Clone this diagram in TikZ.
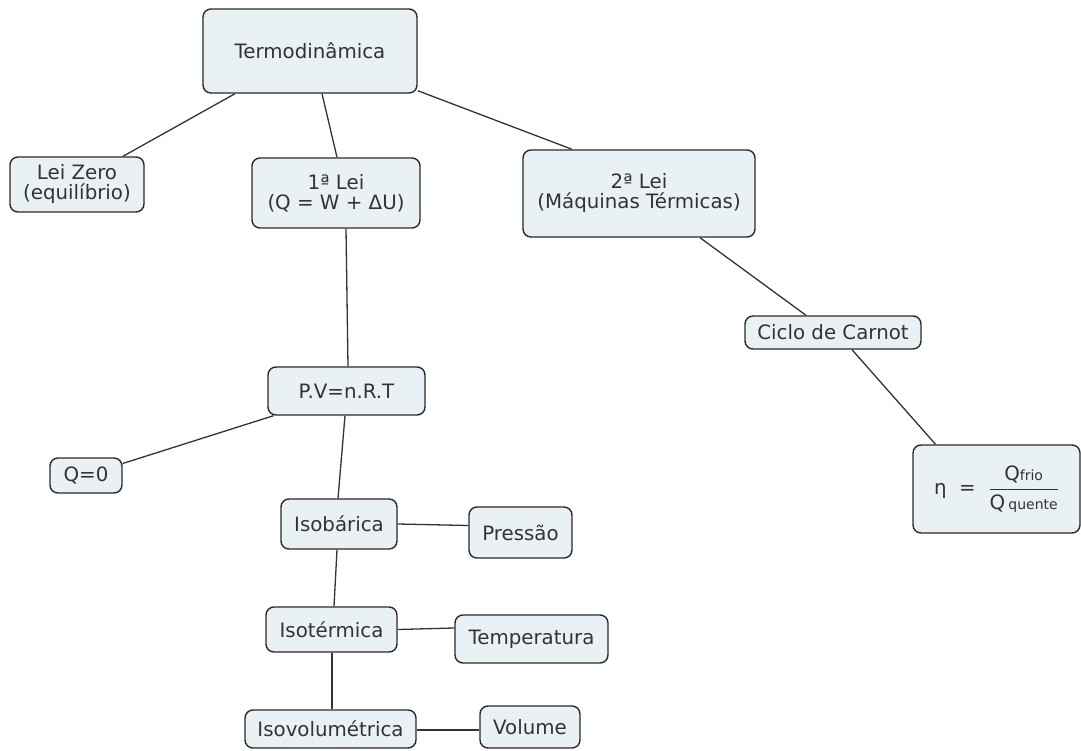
\documentclass[tikz,border=0pt]{standalone}
\usepackage{amsmath}
\usepackage{fontspec}
\setmainfont{DejaVu Sans}
\definecolor{boxfill}{HTML}{EAF1F4}
\definecolor{boxline}{HTML}{2A2A2A}
\definecolor{txt}{HTML}{333333}
\definecolor{conn}{HTML}{333333}
\tikzset{
  box/.style={draw=boxline, line width=1.4pt, rounded corners=8pt, fill=boxfill,
    text=txt, align=center, inner sep=0pt, font=\fontsize{19.8}{20}\selectfont},
  conn/.style={draw=conn, line width=1.3pt}
}
\begin{document}
\begin{tikzpicture}[x=1pt,y=-1pt]
\useasboundingbox[fill=white] (0,0) rectangle (1081,751);
% nodes
\node[box, minimum width=214, minimum height=84] (termo) at (310,51) {Termodinâmica};
\node[box, minimum width=134, minimum height=55] (leizero) at (77,184.5) {Lei Zero\\(equilíbrio)};
\node[box, minimum width=168, minimum height=70] (lei1) at (336,193) {1ª Lei\\(Q = W + ΔU)};
\node[box, minimum width=232, minimum height=87] (lei2) at (639,193.5) {2ª Lei\\(Máquinas Térmicas)};
\node[box, minimum width=176, minimum height=33] (carnot) at (833,332.5) {Ciclo de Carnot};
\node[box, minimum width=167, minimum height=88] (eta) at (996.5,489)
  {η\ \ =\ \ $\dfrac{\text{Q{\fontsize{14}{14}\selectfont frio}}}{\text{Q\,{\fontsize{14}{14}\selectfont quente}}}$};
\node[box, minimum width=157, minimum height=48] (pv) at (346.5,391) {P.V=n.R.T};
\node[box, minimum width=72, minimum height=35] (q0) at (86,475.5) {Q=0};
\node[box, minimum width=116, minimum height=50] (isob) at (339,524) {Isobárica};
\node[box, minimum width=103, minimum height=51] (pressao) at (520.5,532.5) {Pressão};
\node[box, minimum width=131, minimum height=45] (isoterm) at (331.5,629.5) {Isotérmica};
\node[box, minimum width=153, minimum height=48] (temp) at (531.5,639) {Temperatura};
\node[box, minimum width=171, minimum height=38] (isovol) at (330.5,729) {Isovolumétrica};
\node[box, minimum width=100, minimum height=42] (volume) at (530,727) {Volume};
% connectors
\draw[conn] ([xshift=-75pt]termo.south) -- ([xshift=46pt]leizero.north);
\draw[conn] ([xshift=12pt]termo.south) -- ([xshift=1pt]lei1.north);
\draw[conn] ([yshift=3pt]termo.south east) -- ([xshift=-67pt]lei2.north);
\draw[conn] ([xshift=10pt]lei1.south) -- ([xshift=1.5pt]pv.north);
\draw[conn] ([xshift=61pt]lei2.south) -- ([xshift=-27pt]carnot.north);
\draw[conn] ([xshift=19pt]carnot.south) -- ([xshift=-61pt]eta.north);
\draw[conn] ([xshift=-73pt]pv.south) -- ([yshift=12pt]q0.east);
\draw[conn] ([xshift=-1.5pt]pv.south) -- ([xshift=-1pt]isob.north);
\draw[conn] (isob.east) -- ([yshift=7pt]pressao.west);
\draw[conn] ([xshift=-2pt]isob.south) -- ([xshift=2.5pt]isoterm.north);
\draw[conn] (isoterm.east) -- ([yshift=11pt]temp.west);
\draw[conn] ([xshift=0.5pt]isoterm.south) -- ([xshift=1.5pt]isovol.north);
\draw[conn] ([yshift=-1pt]isovol.east) -- ([yshift=-3pt]volume.west);
\end{tikzpicture}
\end{document}
